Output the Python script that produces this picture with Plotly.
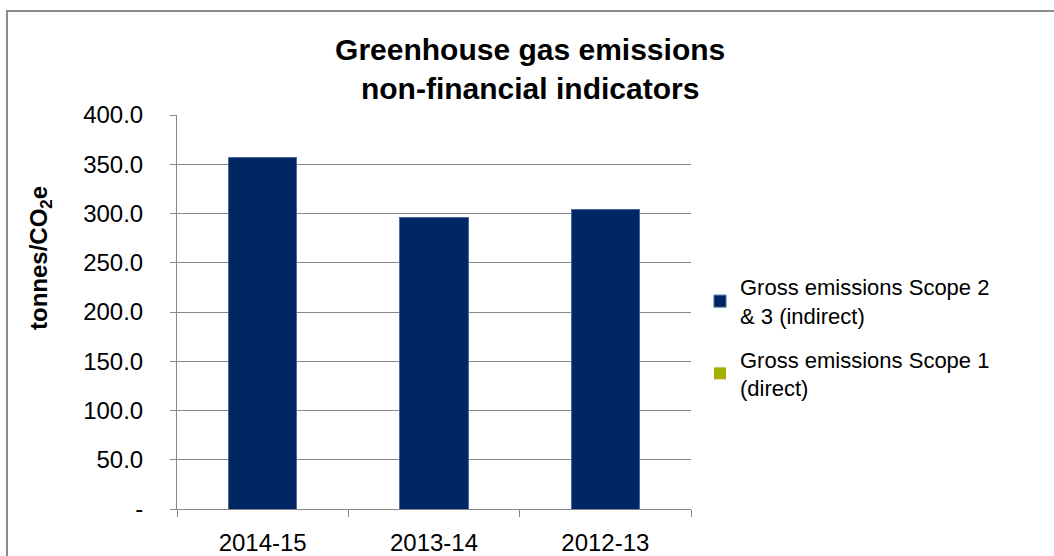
import plotly.graph_objects as go

categories = ["2014-15", "2013-14", "2012-13"]
scope23_values = [357.0, 296.0, 304.0]
scope1_values = [0.0, 0.0, 0.0]
series_names = ["Gross emissions Scope 2<br>& 3 (indirect)", "Gross emissions Scope 1<br>(direct)"]
y_tick_vals = [0, 50, 100, 150, 200, 250, 300, 350, 400]
y_tick_text = ["-", "50.0", "100.0", "150.0", "200.0", "250.0", "300.0", "350.0", "400.0"]
y_title = "<b>tonnes/CO<sub>2</sub>e</b>"
chart_title = "<b>Greenhouse gas emissions<br>non-financial indicators</b>"

FONT = "Liberation Sans, Arial, sans-serif"

fig = go.Figure()
fig.add_trace(go.Bar(
    x=categories, y=scope1_values, name=series_names[1], legendgroup="s1", legendrank=2,
    marker=dict(color="#A5B000", line=dict(color="#A5B000", width=0)),
    width=0.4,
))
fig.add_trace(go.Bar(
    x=categories, y=scope23_values, name=series_names[0], legendgroup="s23", legendrank=1,
    marker=dict(color="#002664", line=dict(color="#4A6A9A", width=1)),
    width=0.4,
))

W, H = 1054, 556
L, R, T, B = 177, 363, 115, 47
pw = W - L - R
ph = H - T - B

def px_x(x):
    return (x - L) / pw

def px_y(y):
    return (H - B - y) / ph

fig.update_layout(
    width=W, height=H,
    barmode="stack",
    plot_bgcolor="white", paper_bgcolor="white",
    margin=dict(l=L, r=R, t=T, b=B, autoexpand=False),
    font=dict(family=FONT, size=22, color="black"),
    title=dict(
        text=chart_title,
        x=0.503, xref="container", xanchor="center",
        y=1 - 60 / H, yref="container", yanchor="top",
        font=dict(family=FONT, size=30, color="black"),
    ),
    legend=dict(
        x=px_x(700), y=px_y(266), xanchor="left", yanchor="top",
        traceorder="grouped",
        font=dict(family=FONT, size=22, color="black"),
        tracegroupgap=12,
        bgcolor="rgba(0,0,0,0)",
    ),
    showlegend=True,
)

fig.update_xaxes(
    showgrid=False,
    showline=True, linecolor="#888888", linewidth=1,
    ticks="outside", tickson="boundaries", ticklen=7, tickcolor="#888888",
    ticklabelstandoff=12,
    tickfont=dict(family=FONT, size=24, color="black"),
)
fig.update_yaxes(
    range=[0, 400],
    tickvals=y_tick_vals, ticktext=y_tick_text,
    showgrid=True, gridcolor="#888888", gridwidth=1,
    showline=True, linecolor="#888888", linewidth=1,
    ticks="outside", ticklen=6, tickcolor="#888888",
    ticklabelstandoff=22,
    tickfont=dict(family=FONT, size=24, color="black"),
    zeroline=False,
)

fig.add_annotation(
    text=y_title, textangle=-90, showarrow=False,
    xref="paper", yref="paper", x=px_x(40), y=px_y(258),
    xanchor="center", yanchor="middle",
    font=dict(family=FONT, size=24, color="black"),
)

# outer chart border
fig.add_shape(
    type="rect", xref="paper", yref="paper",
    x0=px_x(7), x1=px_x(1070), y0=px_y(11), y1=px_y(570),
    line=dict(color="#8C8C8C", width=2), fillcolor="rgba(0,0,0,0)", layer="below",
)

fig.write_html(
    "out.html",
    config={"displayModeBar": False},
    post_script="document.body.style.margin='0';",
)
